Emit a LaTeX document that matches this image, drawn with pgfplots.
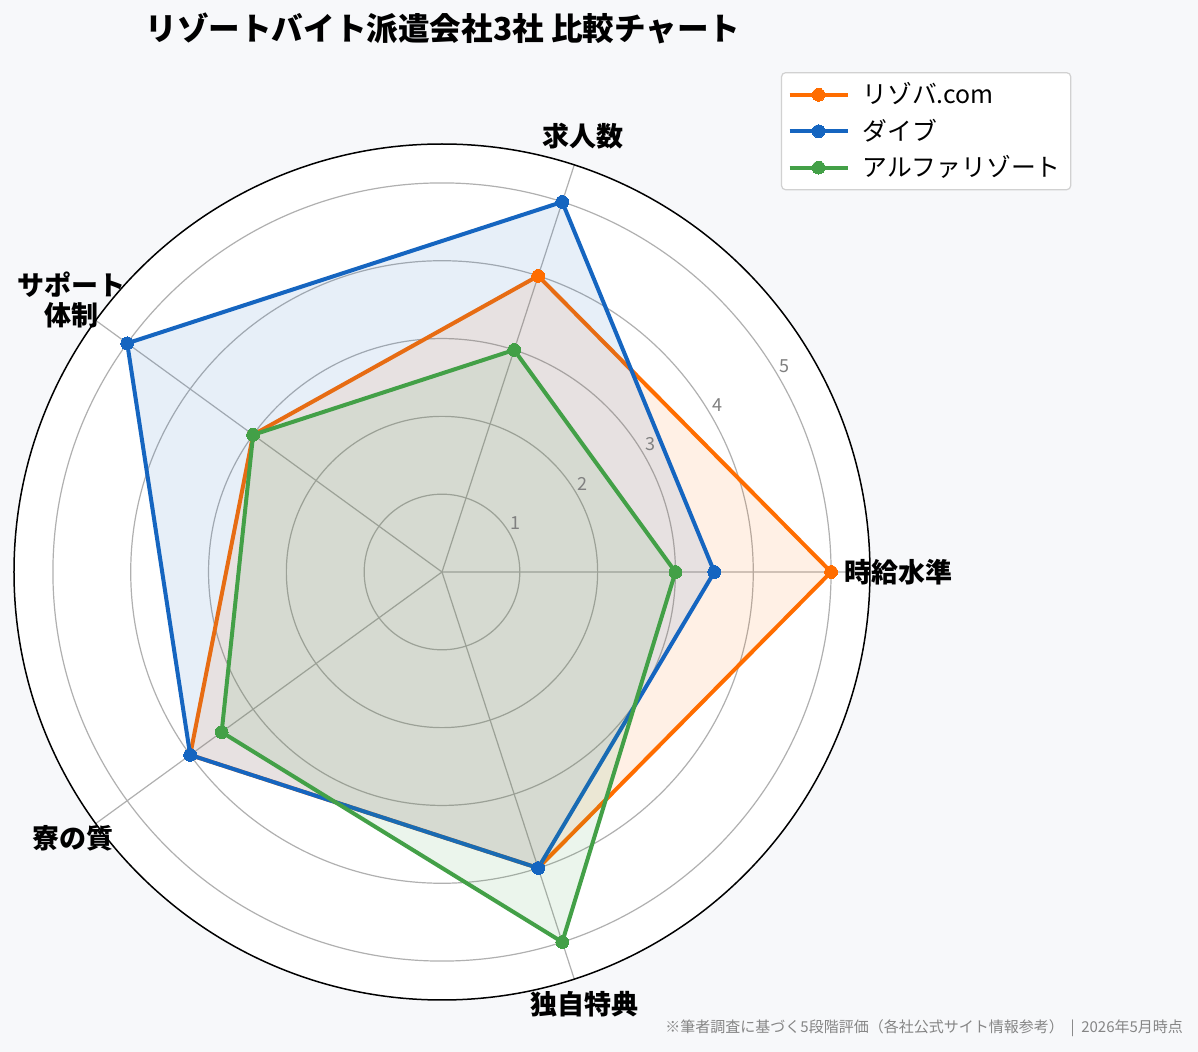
\documentclass[border=0pt]{standalone}
\usepackage{fontspec}
\setmainfont{Noto Sans CJK JP}
\usepackage{pgfplots}
\pgfplotsset{compat=1.18}
\usepgfplotslibrary{polar}
\definecolor{bgc}{HTML}{F7F8FA}
\definecolor{cor}{HTML}{FF6D00}
\definecolor{cbl}{HTML}{1565C0}
\definecolor{cgr}{HTML}{43A047}
\definecolor{gridc}{HTML}{B0B0B0}
\begin{document}
\begin{tikzpicture}
\fill[bgc] (-221pt,-240pt) rectangle (378pt,286pt);
\fill[white] (0,0) circle (214pt);
\begin{polaraxis}[
  at={(0,0)}, anchor=center,
  scale only axis, width=428pt, height=428pt,
  xmin=0, xmax=360, ymin=0, ymax=5.5,
  xtick={0,72,144,216,288}, xticklabels={},
  ytick={1,2,3,4,5}, yticklabels={},
  major tick length=0pt,
  grid=major,
  major grid style={draw=gridc, line width=0.6pt},
  x axis line style={black, line width=0.75pt},
  y axis line style={draw=none},
  clip=false,
  legend cell align=left,
  legend style={at={(0.896,1.084)}, anchor=north west,
    draw=black!18, rounded corners=2pt, fill=white,
    font=\fontsize{12.4}{14}\selectfont,
    inner xsep=3pt, inner ysep=3pt, row sep=2.1pt,
    line width=0.6pt,
    /tikz/every odd column/.append style={column sep=4.5pt}},
  legend image code/.code={\draw[mark repeat=2,mark phase=2,#1] plot coordinates {(0pt,0pt) (14.5pt,0pt) (29pt,0pt)};},
]
\addplot[draw=none, fill=cor, fill opacity=0.1, forget plot] coordinates {(0,5) (72,4) (144,3) (216,4) (288,4) (360,5)};
\addplot[cor, line width=2pt, mark=*, mark size=3.2pt, mark options={line width=0pt}] coordinates {(0,5) (72,4) (144,3) (216,4) (288,4) (360,5)};
\addlegendentry{リゾバ.com}
\addplot[draw=none, fill=cbl, fill opacity=0.1, forget plot] coordinates {(0,3.5) (72,5) (144,5) (216,4) (288,4) (360,3.5)};
\addplot[cbl, line width=2pt, mark=*, mark size=3.2pt, mark options={line width=0pt}] coordinates {(0,3.5) (72,5) (144,5) (216,4) (288,4) (360,3.5)};
\addlegendentry{ダイブ}
\addplot[draw=none, fill=cgr, fill opacity=0.1, forget plot] coordinates {(0,3) (72,3) (144,3) (216,3.5) (288,5) (360,3)};
\addplot[cgr, line width=2pt, mark=*, mark size=3.2pt, mark options={line width=0pt}] coordinates {(0,3) (72,3) (144,3) (216,3.5) (288,5) (360,3)};
\addlegendentry{アルファリゾート}
% category labels
\begin{scope}[every node/.style={font=\fontsize{13.5}{15}\selectfont\bfseries, align=center}]
\node at (axis cs:0,5.86) {時給水準};
\node at (axis cs:72.1,5.89) {求人数};
\node at (axis cs:143.7,5.9) {サポート\\体制};
\node at (axis cs:215.8,5.85) {寮の質};
\node at (axis cs:288.2,5.85) {独自特典};
\end{scope}
% radial tick labels
\begin{scope}[every node/.style={font=\fontsize{9}{10}\selectfont, text=black!50, xshift=3.25pt, yshift=4.85pt}]
\node at (axis cs:30.3,1) {1};
\node at (axis cs:30.3,2) {2};
\node at (axis cs:30.3,3) {3};
\node at (axis cs:30.3,4) {4};
\node at (axis cs:30.3,5) {5};
\end{scope}
\end{polaraxis}
\node[font=\fontsize{15.8}{17}\selectfont\bfseries] at (0.5pt,272pt) {リゾートバイト派遣会社3社 比較チャート};
\node[anchor=east, font=\fontsize{7.5}{9}\selectfont, text=black!48] at (374pt,-228pt) {※筆者調査に基づく5段階評価（各社公式サイト情報参考）\ \ |\ \ 2026年5月時点};
\pgfresetboundingbox
\useasboundingbox (-221pt,-240pt) rectangle (378pt,286pt);
\end{tikzpicture}
\end{document}
